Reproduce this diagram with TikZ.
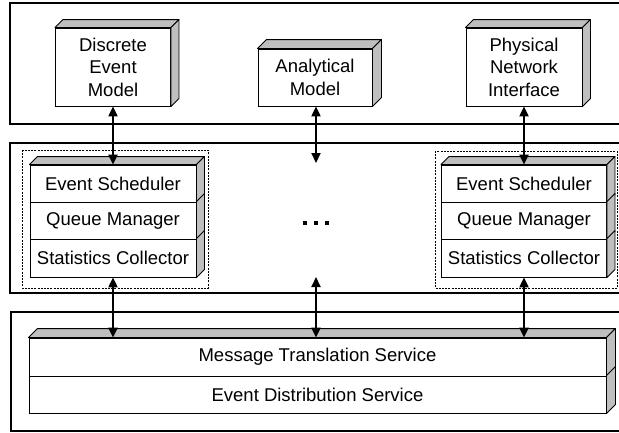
\documentclass[tikz,border=0pt]{standalone}
\usepackage{fontspec}
\setmainfont{Liberation Sans}
\usetikzlibrary{arrows.meta,calc}

% shaded top and side faces of a box drawn as a node
\newcommand\cubetop[2]{%
  \filldraw[boxside] (#1.north west) -- ++(#2,-#2) -- ($(#1.north east)+(#2,-#2)$) -- (#1.north east) -- cycle;}
\newcommand\cubeside[2]{%
  \filldraw[boxside] (#1.north east) -- ++(#2,-#2) -- ($(#1.south east)+(#2,-#2)$) -- (#1.south east) -- cycle;}

\begin{document}
\begin{tikzpicture}[x=1pt,y=-1pt,
  panel/.style={draw, line width=1.5pt},
  front/.style={draw, fill=white, line width=0.9pt, inner sep=0pt, align=center,
    font=\fontsize{18.5}{22.5}\selectfont},
  boxside/.style={fill=gray!50, draw, line width=0.9pt, line join=round},
  group/.style={draw, line width=0.8pt, dash pattern=on 2pt off 1.2pt},
  biarrow/.style={line width=2.2pt, {Triangle[length=10pt,width=9pt]}-{Triangle[length=10pt,width=9pt]}}]
\useasboundingbox (0,0) rectangle (619,432);
\clip (0,0) rectangle (619,432);

% three horizontal layers
\draw[panel] (10,3) rectangle (630,124);
\draw[panel] (10,143) rectangle (630,293);
\draw[panel] (11,312) rectangle (630,431);

% dashed groups around the two component stacks
\draw[group] (22,150) rectangle (208,288);
\draw[group] (435,151) rectangle (617,288);

% models and interface
\node[front, minimum width=115pt, minimum height=78pt] (dem) at (113,67) {Discrete\\Event\\Model};
\cubetop{dem}{8}\cubeside{dem}{8}
\node[front, minimum width=114pt, minimum height=57pt] (am) at (315,77.5) {Analytical\\Model};
\cubetop{am}{9}\cubeside{am}{9}
\node[front, minimum width=116pt, minimum height=78pt] (pni) at (524,67) {Physical\\Network\\Interface};
\cubetop{pni}{8}\cubeside{pni}{8}

% left component stack
\node[front, minimum width=166pt, minimum height=37pt] (ls1) at (113,183.5) {Event Scheduler};
\node[front, minimum width=166pt, minimum height=37pt] (ls2) at (113,220.5) {Queue Manager};
\node[front, minimum width=166pt, minimum height=38pt] (ls3) at (113,258) {Statistics Collector};
\cubetop{ls1}{8}\cubeside{ls1}{8}\cubeside{ls2}{8}\cubeside{ls3}{8}

% right component stack
\node[front, minimum width=165pt, minimum height=37pt] (rs1) at (524,183.5) {Event Scheduler};
\node[front, minimum width=165pt, minimum height=37pt] (rs2) at (524,220.5) {Queue Manager};
\node[front, minimum width=165pt, minimum height=38pt] (rs3) at (524,258) {Statistics Collector};
\cubetop{rs1}{8}\cubeside{rs1}{8}\cubeside{rs2}{8}\cubeside{rs3}{8}

% service layer
\node[front, minimum width=577pt, minimum height=38pt] (mts) at (317.5,357) {Message Translation Service};
\node[front, minimum width=577pt, minimum height=37pt] (eds) at (317.5,394.5) {Event Distribution Service};
\cubetop{mts}{9}\cubeside{mts}{9}\cubeside{eds}{9}

% ellipsis between the stacks
\coordinate (dots) at (316,223);
\foreach \dx in {-11,0,11}
  \fill ($(dots)+(\dx-2,-2)$) rectangle ++(4,4);

% free ends of the middle connectors
\coordinate (amtip) at (316,163);
\coordinate (ambot) at (316,277);

% connectors
\draw[biarrow] (dem.south) -- (dem.south |- ls1.north);
\draw[biarrow] (am.south -| amtip) -- (amtip);
\draw[biarrow] (pni.south) -- (pni.south |- rs1.north);
\draw[biarrow] (ls3.south) -- (ls3.south |- mts.north);
\draw[biarrow] (ambot) -- (ambot |- mts.north);
\draw[biarrow] (rs3.south) -- (rs3.south |- mts.north);
\end{tikzpicture}
\end{document}
